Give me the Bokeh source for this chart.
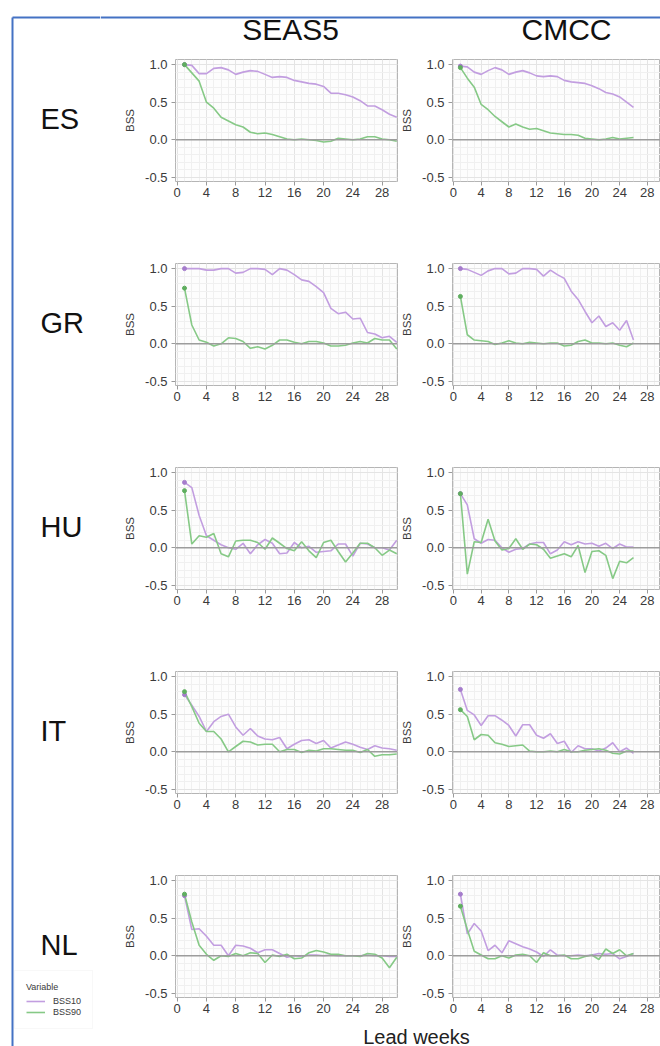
from bokeh.plotting import figure
from bokeh.layouts import row, column
from bokeh.models import Range1d, FixedTicker, NumeralTickFormatter, Span, Legend, LegendItem
from bokeh.core.properties import value
from bokeh.embed import file_html
from bokeh.resources import INLINE

# ---------------- data ----------------
COUNTRIES = ["ES", "GR", "HU", "IT", "NL"]
MODELS = ["SEAS5", "CMCC"]
SERIES = ["BSS10", "BSS90"]
WEEKS_SEAS5 = list(range(1, 31))
WEEKS_CMCC = list(range(1, 27))
X_TICKS = [0, 4, 8, 12, 16, 20, 24, 28]
Y_TICKS = [-0.5, 0.0, 0.5, 1.0]

ES_SEAS5_BSS10 = [1.0, 0.99, 0.88, 0.88, 0.95, 0.96, 0.93, 0.87, 0.9, 0.92, 0.91, 0.87, 0.83, 0.84, 0.83,
                  0.79, 0.77, 0.75, 0.74, 0.71, 0.62, 0.62, 0.6, 0.57, 0.52, 0.45, 0.45, 0.4, 0.34, 0.3]
ES_SEAS5_BSS90 = [1.0, 0.89, 0.78, 0.5, 0.42, 0.3, 0.25, 0.2, 0.17, 0.1, 0.08, 0.09, 0.07, 0.04, 0.01,
                  0.0, 0.01, 0.0, -0.01, -0.03, -0.02, 0.02, 0.01, 0.0, 0.01, 0.04, 0.04, 0.01, 0.0, -0.02]
ES_CMCC_BSS10 = [0.98, 0.97, 0.9, 0.87, 0.92, 0.96, 0.93, 0.87, 0.9, 0.92, 0.89, 0.85, 0.84, 0.85, 0.84,
                 0.79, 0.77, 0.76, 0.75, 0.72, 0.68, 0.63, 0.61, 0.57, 0.5, 0.43]
ES_CMCC_BSS90 = [0.96, 0.82, 0.7, 0.47, 0.4, 0.31, 0.24, 0.17, 0.21, 0.17, 0.14, 0.15, 0.12, 0.09, 0.08,
                 0.07, 0.07, 0.06, 0.02, 0.01, 0.0, 0.01, 0.03, 0.01, 0.02, 0.03]

GR_SEAS5_BSS10 = [1.0, 1.0, 1.0, 0.98, 0.98, 1.0, 1.0, 0.94, 0.95, 1.0, 1.0, 0.99, 0.92, 1.0, 0.98,
                  0.92, 0.85, 0.83, 0.76, 0.68, 0.47, 0.4, 0.42, 0.33, 0.34, 0.15, 0.13, 0.08, 0.1, 0.02]
GR_SEAS5_BSS90 = [0.74, 0.25, 0.05, 0.02, -0.03, 0.0, 0.08, 0.07, 0.03, -0.06, -0.04, -0.07, -0.02, 0.05, 0.05,
                  0.02, 0.0, 0.03, 0.03, 0.01, -0.03, -0.03, -0.02, 0.01, 0.03, 0.01, 0.07, 0.05, 0.05, -0.07]
GR_CMCC_BSS10 = [1.0, 0.99, 0.95, 0.91, 0.97, 1.0, 1.0, 0.93, 0.94, 1.0, 1.0, 0.99, 0.9, 0.98, 0.92,
                 0.87, 0.7, 0.59, 0.43, 0.28, 0.37, 0.23, 0.28, 0.18, 0.31, 0.05]
GR_CMCC_BSS90 = [0.63, 0.12, 0.05, 0.04, 0.03, -0.01, 0.01, 0.04, 0.01, 0.0, 0.02, 0.01, 0.0, 0.01, 0.01,
                 -0.03, -0.02, 0.03, 0.05, 0.01, 0.01, 0.0, 0.01, -0.02, -0.04, 0.01]

HU_SEAS5_BSS10 = [0.87, 0.8, 0.43, 0.16, 0.1, 0.04, 0.0, -0.02, 0.06, -0.08, 0.04, 0.11, 0.06, -0.08, -0.07,
                  0.07, 0.0, 0.02, -0.06, -0.05, -0.04, 0.05, 0.05, -0.11, 0.06, 0.05, 0.0, 0.0, -0.03, 0.1]
HU_SEAS5_BSS90 = [0.76, 0.05, 0.16, 0.14, 0.19, -0.08, -0.12, 0.09, 0.1, 0.1, 0.07, -0.02, 0.13, 0.06, -0.01,
                  -0.04, 0.08, -0.04, -0.13, 0.07, 0.1, -0.05, -0.19, -0.07, 0.06, 0.06, 0.0, -0.1, -0.03, -0.08]
HU_CMCC_BSS10 = [0.72, 0.57, 0.12, 0.06, 0.11, 0.1, 0.0, -0.06, -0.02, -0.01, 0.05, 0.07, 0.07, -0.08, -0.03,
                 0.08, 0.04, 0.08, 0.05, 0.06, 0.02, 0.06, -0.01, 0.05, 0.01, 0.01]
HU_CMCC_BSS90 = [0.72, -0.35, 0.08, 0.07, 0.38, 0.09, -0.03, -0.01, 0.12, -0.02, 0.05, 0.04, -0.02, -0.14, -0.11,
                 -0.08, -0.12, 0.03, -0.33, -0.05, -0.04, -0.1, -0.41, -0.18, -0.2, -0.13]

IT_SEAS5_BSS10 = [0.76, 0.62, 0.47, 0.27, 0.4, 0.47, 0.5, 0.33, 0.22, 0.31, 0.21, 0.17, 0.16, 0.19, 0.04,
                  0.1, 0.15, 0.16, 0.11, 0.15, 0.05, 0.09, 0.13, 0.1, 0.06, 0.03, 0.08, 0.05, 0.04, 0.02]
IT_SEAS5_BSS90 = [0.8, 0.6, 0.38, 0.27, 0.27, 0.17, 0.0, 0.07, 0.14, 0.13, 0.09, 0.1, 0.1, 0.0, 0.03,
                  0.03, -0.01, 0.02, 0.01, 0.04, 0.04, 0.03, 0.02, 0.02, -0.01, 0.03, -0.06, -0.04, -0.04, -0.03]
IT_CMCC_BSS10 = [0.83, 0.55, 0.49, 0.35, 0.48, 0.48, 0.42, 0.35, 0.21, 0.36, 0.36, 0.22, 0.18, 0.24, 0.11,
                 0.14, -0.01, 0.08, 0.04, 0.04, 0.01, 0.05, 0.12, 0.0, 0.05, -0.02]
IT_CMCC_BSS90 = [0.56, 0.47, 0.16, 0.23, 0.22, 0.12, 0.1, 0.07, 0.08, 0.09, 0.01, 0.0, 0.0, 0.01, 0.0,
                 0.03, 0.0, 0.0, 0.02, 0.03, 0.04, 0.02, -0.02, -0.03, 0.01, 0.01]

NL_SEAS5_BSS10 = [0.8, 0.35, 0.36, 0.26, 0.14, 0.14, 0.0, 0.14, 0.13, 0.1, 0.04, 0.08, 0.08, 0.03, -0.02,
                  0.0, -0.01, 0.01, 0.01, 0.0, 0.01, 0.0, 0.0, 0.0, 0.0, 0.01, 0.0, 0.0, -0.01, -0.01]
NL_SEAS5_BSS90 = [0.82, 0.45, 0.14, 0.02, -0.06, 0.0, -0.01, 0.03, 0.0, 0.04, 0.03, -0.09, 0.01, -0.01, 0.02,
                  -0.04, -0.03, 0.04, 0.07, 0.05, 0.02, 0.02, 0.0, 0.0, -0.01, 0.03, 0.02, -0.03, -0.16, -0.02]
NL_CMCC_BSS10 = [0.82, 0.29, 0.43, 0.33, 0.07, 0.14, 0.04, 0.2, 0.16, 0.12, 0.09, 0.05, -0.01, 0.08, 0.01,
                 0.0, 0.0, 0.01, 0.0, 0.01, 0.03, 0.02, 0.03, -0.04, -0.01, 0.03]
NL_CMCC_BSS90 = [0.66, 0.35, 0.06, 0.01, -0.04, -0.04, 0.0, -0.03, 0.01, 0.02, 0.0, -0.09, 0.04, 0.0, 0.0,
                 0.01, -0.04, -0.04, -0.01, 0.01, -0.05, 0.09, 0.03, 0.08, 0.0, 0.03]

DATA = {
    "ES": {"SEAS5": (ES_SEAS5_BSS10, ES_SEAS5_BSS90), "CMCC": (ES_CMCC_BSS10, ES_CMCC_BSS90)},
    "GR": {"SEAS5": (GR_SEAS5_BSS10, GR_SEAS5_BSS90), "CMCC": (GR_CMCC_BSS10, GR_CMCC_BSS90)},
    "HU": {"SEAS5": (HU_SEAS5_BSS10, HU_SEAS5_BSS90), "CMCC": (HU_CMCC_BSS10, HU_CMCC_BSS90)},
    "IT": {"SEAS5": (IT_SEAS5_BSS10, IT_SEAS5_BSS90), "CMCC": (IT_CMCC_BSS10, IT_CMCC_BSS90)},
    "NL": {"SEAS5": (NL_SEAS5_BSS10, NL_SEAS5_BSS90), "CMCC": (NL_CMCC_BSS10, NL_CMCC_BSS90)},
}
WEEKS = {"SEAS5": WEEKS_SEAS5, "CMCC": WEEKS_CMCC}

# ---------------- style ----------------
FONT = "Liberation Sans"
PURPLE = "#c29ee0"
GREEN = "#86c986"
PURPLE_PT = "#a57ccc"
GREEN_PT = "#5fae5f"
BLUE = "#4472C4"
TXT = "#3a3a3a"

ROW_H = 204
TOP_H = 50
FIRST_ROW_H = 196
LAST_ROW_H = 162
BOT_H = 26
LABEL_Y = [118, 322, 526, 730, 944]


def make_panel(country, model, idx):
    b10, b90 = DATA[country][model]
    weeks = WEEKS[model]
    if model == "SEAS5":
        w, xr, bl, br = 298, Range1d(-0.23, 30.1), 75, 1
    else:
        w, xr, bl, br = 262, Range1d(-0.14, 29.9), 50, 0
    if idx == 0:
        h, bt = FIRST_ROW_H, 9
    elif idx == len(COUNTRIES) - 1:
        h, bt = LAST_ROW_H, 17
    else:
        h, bt = ROW_H, 17
    p = figure(width=w, height=h, x_range=xr, y_range=Range1d(-0.555, 1.068),
               output_backend="svg", toolbar_location=None,
               min_border_left=bl, min_border_right=br, min_border_top=bt,
               min_border_bottom=h - bt - 122)
    p.background_fill_color = "#fdfdfd"
    p.outline_line_color = "#b5b5b5"
    p.outline_line_width = 1
    minor_x = list(range(0, 31))
    minor_y = [round(-0.5 + 0.1 * i, 1) for i in range(16)]
    p.xaxis.ticker = FixedTicker(ticks=X_TICKS, minor_ticks=minor_x)
    p.yaxis.ticker = FixedTicker(ticks=Y_TICKS, minor_ticks=minor_y)
    p.yaxis.formatter = NumeralTickFormatter(format="0.0")
    for ax in (p.xaxis[0], p.yaxis[0]):
        ax.axis_line_color = None
        ax.major_tick_line_color = "#9a9a9a"
        ax.major_tick_in = 0
        ax.major_tick_out = 4
        ax.minor_tick_line_color = None
        ax.major_label_text_font = FONT
        ax.major_label_text_font_size = "13px"
        ax.major_label_text_color = TXT
    p.xaxis.major_label_standoff = 2
    p.yaxis.major_label_standoff = 4
    p.yaxis.axis_label = "BSS"
    p.yaxis.axis_label_text_font = FONT
    p.yaxis.axis_label_text_font_size = "11.5px"
    p.yaxis.axis_label_text_font_style = "normal"
    p.yaxis.axis_label_text_color = TXT
    p.yaxis.axis_label_standoff = 6
    p.grid.grid_line_color = "#e4e4e4"
    p.grid.grid_line_width = 1
    p.grid.minor_grid_line_color = "#f0f0f0"
    p.add_layout(Span(location=0, dimension="width", line_color="#9c9c9c", line_width=1.4))
    p.line(weeks, b10, line_color=PURPLE, line_width=1.6)
    p.line(weeks, b90, line_color=GREEN, line_width=1.6)
    p.scatter(weeks[:1], b10[:1], size=4, color=PURPLE_PT)
    p.scatter(weeks[:1], b90[:1], size=4, color=GREEN_PT)
    return p


# left column: country labels, border, legend
left = figure(width=100, height=1046, x_range=Range1d(0, 100), y_range=Range1d(1046, 0),
              output_backend="svg", toolbar_location=None, min_border=0,
              x_axis_location=None, y_axis_location=None)
left.outline_line_color = None
left.grid.visible = False
left.segment(x0=[12, 12], y0=[17, 17], x1=[12, 100], y1=[1046, 17], line_color=BLUE, line_width=2)
left.text(x=[40] * len(COUNTRIES), y=LABEL_Y, text=COUNTRIES, text_font=value(FONT),
          text_font_size="29px", text_baseline="middle", text_align="left", text_color="#111111")
NAN = float("nan")
r10 = left.line(x=[NAN], y=[NAN], line_color=PURPLE, line_width=1.6)
r90 = left.line(x=[NAN], y=[NAN], line_color=GREEN, line_width=1.6)
legend = Legend(items=[LegendItem(label=SERIES[0], renderers=[r10]),
                       LegendItem(label=SERIES[1], renderers=[r90])],
                title="Variable", location=(14, 17),
                label_text_font=FONT, label_text_font_size="9px", label_text_color=TXT,
                title_text_font=FONT, title_text_font_size="9px", title_text_color=TXT,
                title_text_font_style="normal",
                glyph_width=19, glyph_height=10, label_height=10, spacing=1,
                padding=11, margin=0, label_standoff=8, title_standoff=4,
                background_fill_color="white", border_line_color="#f2f2f2")
left.add_layout(legend)

# top titles
top = figure(width=560, height=TOP_H, x_range=Range1d(100, 660), y_range=Range1d(TOP_H, 0),
             output_backend="svg", toolbar_location=None, min_border=0,
             x_axis_location=None, y_axis_location=None)
top.outline_line_color = None
top.grid.visible = False
top.add_layout(Span(location=17, dimension="width", line_color=BLUE, line_width=2))
top.text(x=[290, 566], y=[29, 29], text=MODELS, text_font=value(FONT), text_font_size="30px",
         text_align="center", text_baseline="middle", text_color="#111111")

# bottom axis title
bot = figure(width=560, height=BOT_H, x_range=Range1d(100, 660), y_range=Range1d(1046, 1046 - BOT_H),
             output_backend="svg", toolbar_location=None, min_border=0,
             x_axis_location=None, y_axis_location=None)
bot.outline_line_color = None
bot.grid.visible = False
bot.text(x=[416], y=[1036], text=["Lead weeks"], text_font=value(FONT), text_font_size="20px",
         text_align="center", text_baseline="middle", text_color="#222222")

rows = []
for i, c in enumerate(COUNTRIES):
    rows.append(row(make_panel(c, "SEAS5", i), make_panel(c, "CMCC", i)))

layout = row(left, column(top, *rows, bot))

open("out.html", "w").write(file_html(layout, INLINE))
